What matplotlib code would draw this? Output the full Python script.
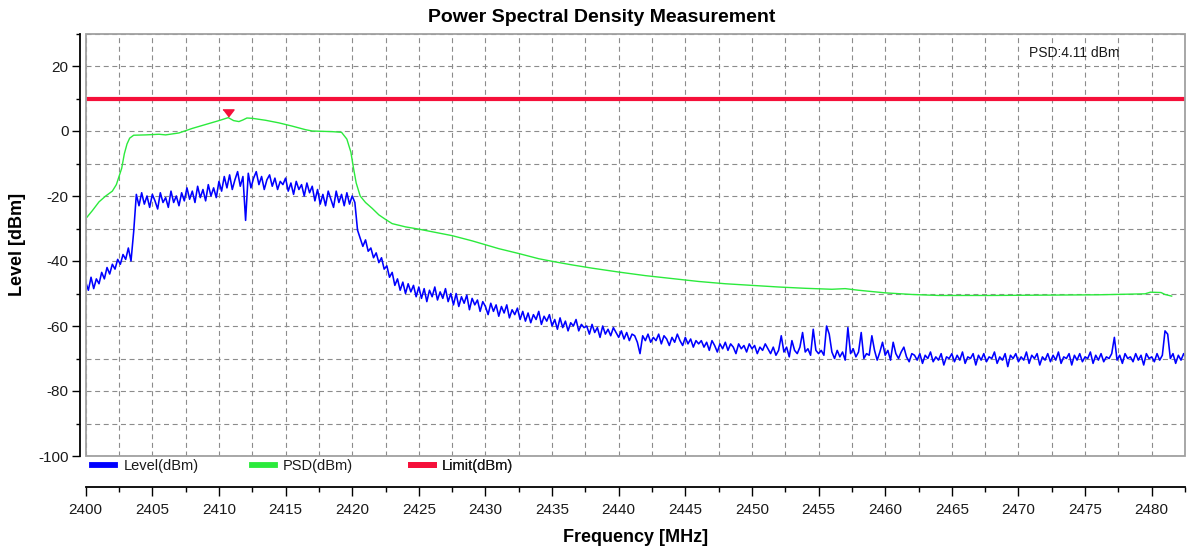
import numpy as np
import matplotlib
matplotlib.use("Agg")
import matplotlib.pyplot as plt
from matplotlib.lines import Line2D
from matplotlib.patches import Rectangle
from matplotlib.ticker import MultipleLocator
import matplotlib.transforms as mtransforms

plt.rcParams['font.family'] = ['Liberation Sans', 'DejaVu Sans']
plt.rcParams['lines.scale_dashes'] = False
plt.rcParams['axes.unicode_minus'] = False

# ---------------- data ----------------
title = "Power Spectral Density Measurement"
x_label = "Frequency [MHz]"
y_label = "Level [dBm]"
series_names = ["Level(dBm)", "PSD(dBm)", "Limit(dBm)"]

level_start_mhz = 2400.0
level_step_mhz = 0.2
level_dbm = [
    # 2400.0 - 2403.6
    -46.5, -49.0, -45.0, -48.5, -45.5, -47.0, -43.5, -45.5, -42.0, -44.0,
    -41.0, -42.5, -39.5, -41.0, -38.0, -39.5, -36.0, -40.0, -31.0,
    # 2403.8 - 2407.4
    -19.5, -23.0, -19.0, -22.5, -20.0, -23.5, -19.5, -21.5, -24.0, -19.0,
    -22.0, -20.5, -23.5, -18.5, -22.0, -20.0, -23.0, -19.0, -21.5,
    # 2407.6 - 2409.8
    -17.5, -21.0, -18.5, -22.0, -17.0, -20.5, -18.0, -21.5, -16.5, -20.0,
    -17.5, -20.5,
    # 2410.0 - 2411.8
    -15.5, -18.5, -14.0, -17.5, -13.5, -18.0, -15.0, -12.5, -17.0, -14.0,
    # 2412.0 notch
    -27.5,
    # 2412.2 - 2414.8
    -13.0, -17.5, -14.5, -12.5, -16.5, -14.0, -18.0, -15.0, -13.5, -17.0,
    -14.5, -18.0, -15.5, -16.5,
    # 2415.0 - 2417.0
    -14.5, -18.5, -16.0, -19.5, -15.5, -18.0, -16.5, -20.0, -16.0, -19.0,
    -17.0,
    # 2417.2 - 2420.2
    -21.5, -18.0, -22.5, -19.5, -23.0, -18.5, -21.0, -23.5, -18.5, -22.0,
    -19.5, -23.0, -19.0, -22.5, -20.0, -22.0,
    # 2420.4 - 2425.0
    -30.5, -33.0, -35.5, -33.5, -37.0, -36.0, -39.0, -37.5, -40.5, -39.0,
    -42.5, -41.5, -45.0, -43.5, -47.5, -45.5, -49.0, -46.5, -50.0, -47.0,
    -49.5, -47.5, -51.0, -48.0,
    # 2425.2 - 2427.4
    -51.5, -48.5, -52.5, -49.0, -51.0, -48.0, -52.0, -49.5, -51.5, -48.5,
    -52.5, -50.0,
    # 2427.6 - 2429.8
    -53.5, -50.0, -54.0, -51.0, -53.0, -50.5, -55.0, -51.5, -53.5, -52.0,
    -55.5, -52.5,
    # 2430.0 - 2432.4
    -54.0, -56.5, -53.0, -55.5, -53.5, -57.0, -54.0, -56.0, -53.5, -57.5,
    -55.0, -56.5, -54.5,
    # 2432.6 - 2434.8
    -58.0, -55.5, -58.5, -56.0, -59.0, -56.5, -58.0, -55.5, -59.5, -57.0,
    -58.5, -56.5,
    # 2435.0 - 2437.4
    -60.0, -58.0, -61.0, -57.5, -60.5, -58.5, -61.5, -59.0, -60.0, -58.0,
    -61.5, -59.5, -60.5,
    # 2437.6 - 2439.8
    -60.0, -62.5, -59.5, -62.0, -60.5, -63.5, -60.0, -62.5, -61.0, -63.0,
    -60.5, -62.0,
    # 2440.0 - 2446.0
    -63.5, -61.5, -64.0, -62.0, -64.5, -62.5, -63.0, -65.0, -68.5, -63.0,
    -64.5, -62.5, -65.0, -63.5, -64.5, -62.5, -65.5, -63.0, -64.0, -66.0,
    -63.5, -65.0, -62.5, -64.5, -66.0, -63.5, -65.5, -64.0, -66.5, -64.5,
    -65.5,
    # 2446.2 - 2451.0
    -64.5, -66.5, -65.0, -67.5, -64.5, -66.0, -68.0, -65.5, -67.0, -65.0,
    -67.5, -65.5, -66.5, -68.5, -65.5, -67.0, -66.0, -68.0, -65.5, -67.0,
    -66.0, -68.5, -66.5, -67.5, -65.5,
    # 2451.2 - 2455.0
    -67.0, -68.5, -66.5, -69.0, -67.5, -63.0, -68.0, -66.5, -69.5, -64.5,
    -67.5, -68.5, -66.5, -62.0, -68.0, -67.0, -69.0, -61.0, -67.5, -68.5,
    # 2455.2 - 2462.0
    -67.5, -69.0, -60.0, -62.5, -68.0, -70.0, -67.5, -69.5, -68.0, -70.5,
    -60.5, -68.5, -67.0, -69.5, -68.0, -62.0, -70.0, -68.5, -69.0, -63.0,
    -67.5, -70.5, -68.0, -65.0, -69.0, -67.5, -70.5, -65.0, -68.5, -70.0,
    -68.0, -66.5, -69.5, -71.0, -68.5,
    # 2462.2 - 2482.6
    -69.0, -70.5, -68.5, -71.5, -69.0, -70.0, -68.0, -71.0, -69.5, -70.5,
    -68.5, -72.0, -69.5, -70.0, -68.5, -71.0, -69.0, -70.5, -68.0, -71.5,
    -69.5, -70.0, -68.5, -72.0, -69.0, -70.5, -68.5, -71.0, -69.5, -70.0,
    -68.0, -71.5, -69.5, -70.5, -68.5, -72.5, -69.0, -70.0, -68.5, -71.0,
    -69.5, -70.5, -68.0, -71.5, -69.0, -70.0, -68.5, -72.0, -69.5, -70.5,
    -68.5, -71.0, -69.0, -70.5, -68.0, -71.5, -69.5, -70.0, -68.5, -72.0,
    -69.0, -70.5, -68.5, -71.0, -69.5, -70.0, -68.0, -71.5, -69.0, -70.5,
    -68.5, -71.0, -69.5, -70.0, -68.5, -63.5, -70.5, -69.0, -71.5, -68.5,
    -70.0, -69.5, -71.0, -68.5, -70.5, -69.0, -72.0, -68.5, -70.0, -69.5,
    -71.0, -68.5, -70.5, -69.0, -61.5, -62.5, -70.0, -68.5, -71.5, -69.0,
    -70.5, -68.5, -70.0,
]

psd_freq = [
    2400.0, 2400.5, 2401.0, 2401.5, 2402.0, 2402.3, 2402.5, 2402.7, 2402.9, 2403.1,
    2403.3, 2403.6, 2404.5, 2405.5, 2406.0, 2407.0, 2408.0, 2409.0, 2410.0, 2410.7,
    2411.1, 2411.5, 2411.8, 2412.1, 2412.5, 2413.5, 2414.5, 2415.5, 2416.5, 2417.0,
    2418.5, 2419.2, 2419.6, 2419.9, 2420.1, 2420.3, 2420.6, 2421.0, 2421.5, 2422.0,
    2422.5, 2423.0, 2424.0, 2425.0, 2426.0, 2427.5, 2429.0, 2430.0, 2431.0, 2432.5,
    2434.0, 2435.0, 2436.5, 2438.0, 2440.0, 2442.0, 2444.0, 2446.0, 2448.0, 2450.0,
    2452.0, 2454.0, 2456.0, 2457.0, 2458.0, 2460.0, 2462.0, 2464.0, 2468.0, 2472.0,
    2476.0, 2479.5, 2479.9, 2480.7, 2481.0, 2481.5,
]
psd_dbm = [
    -27.0, -24.5, -21.8, -20.0, -18.5, -16.5, -14.0, -11.5, -7.0, -4.0,
    -2.2, -1.3, -1.2, -1.0, -1.2, -0.6, 0.8, 2.0, 3.2, 4.11,
    3.2, 2.9, 3.4, 4.0, 3.9, 3.3, 2.5, 1.5, 0.4, 0.0,
    -0.2, -0.4, -2.5, -6.5, -11.5, -16.0, -20.0, -22.0, -23.8, -25.8,
    -27.2, -28.5, -29.5, -30.2, -31.0, -32.2, -33.8, -35.0, -36.2, -37.7,
    -39.3, -40.1, -41.2, -42.2, -43.4, -44.5, -45.4, -46.3, -47.0, -47.5,
    -48.0, -48.4, -48.7, -48.5, -49.0, -49.8, -50.3, -50.6, -50.6, -50.5,
    -50.4, -50.1, -49.6, -49.7, -50.3, -50.8,
]

limit_dbm = 10.0
peak_freq = 2410.7
peak_psd = 4.11
annotation = "PSD:4.11 dBm"

x_range = (2400.0, 2482.5)
y_range = (-100.0, 30.0)

# ---------------- styling ----------------
BLUE = "#0000FF"
GREEN = "#2BEA3C"
RED = "#F5103A"
GRID = "#8C8C8C"
FRAME = "#A0A0A0"

W, H = 1187, 554
fig = plt.figure(figsize=(W / 100, H / 100), dpi=100)
ax_l, ax_r, ax_t, ax_b = 85.7, 1185.0, 33.5, 456.0
ax = fig.add_axes([ax_l / W, 1 - ax_b / H, (ax_r - ax_l) / W, (ax_b - ax_t) / H])

level_freq = level_start_mhz + level_step_mhz * np.arange(len(level_dbm))

ax.plot(psd_freq, psd_dbm, color=GREEN, lw=1.0, zorder=3)
ax.plot(level_freq, level_dbm, color=BLUE, lw=1.15, zorder=4)
ax.axhline(limit_dbm, color=RED, lw=3.0, zorder=5)

# peak marker (slightly above the peak)
tri = [(-1.0, 0.65), (1.0, 0.65), (0.0, -0.65)]
off = mtransforms.offset_copy(ax.transData, fig=fig, x=0, y=3.5, units='points')
ax.plot([peak_freq], [peak_psd], marker=tri, markersize=8, color=RED,
        linestyle='none', transform=off, zorder=6, clip_on=False)

ax.set_xlim(*x_range)
ax.set_ylim(*y_range)

ax.xaxis.set_major_locator(MultipleLocator(5))
ax.xaxis.set_minor_locator(MultipleLocator(2.5))
ax.yaxis.set_major_locator(MultipleLocator(20))
ax.yaxis.set_minor_locator(MultipleLocator(10))

ax.grid(which='both', axis='both', color=GRID, lw=0.8, linestyle=(0, (3.6, 2.6)), zorder=1)
ax.set_axisbelow(True)

for s in ['top', 'right']:
    ax.spines[s].set_visible(False)
ax.spines['left'].set_position(('outward', 3.8))
ax.spines['left'].set_color('black')
ax.spines['left'].set_linewidth(1.3)
ax.spines['bottom'].set_position(('outward', 22.3))
ax.spines['bottom'].set_color('black')
ax.spines['bottom'].set_linewidth(1.3)

ax.add_patch(Rectangle((0, 0), 1, 1, transform=ax.transAxes, fill=False,
                       edgecolor=FRAME, lw=1.3, zorder=7, clip_on=False))

ax.tick_params(axis='x', which='major', length=6.5, width=1.0, direction='out',
               labelsize=11, pad=5, colors='black', labelcolor='#1a1a1a')
ax.tick_params(axis='x', which='minor', length=3.6, width=1.0, direction='out')
ax.tick_params(axis='y', which='major', length=6, width=1.0, direction='out',
               labelsize=11, pad=2.5, colors='black', labelcolor='#1a1a1a')
ax.tick_params(axis='y', which='minor', length=3, width=1.0, direction='out')

ax.set_xlabel(x_label, fontsize=13, fontweight='bold')
ax.xaxis.set_label_coords(0.5, (ax_b - 538) / (ax_b - ax_t))
ax.xaxis.label.set_va('center')
ax.set_ylabel(y_label, fontsize=13, fontweight='bold')
ax.yaxis.set_label_coords((18 - ax_l) / (ax_r - ax_l), 0.5)
ax.yaxis.label.set_va('center')

fig.text(602 / W, 1 - 17 / H, title, ha='center', va='center',
         fontsize=14, fontweight='bold')

ax.text((1074 - ax_l) / (ax_r - ax_l), (ax_b - 53) / (ax_b - ax_t), annotation,
        transform=ax.transAxes, ha='center', va='center', fontsize=10, color='#1a1a1a')

# legends, one per series, placed in the band between plot and axis
leg_colors = [BLUE, GREEN, RED]
leg_x_px = [92.0, 251.7, 410.7]
for name, col, lx in zip(series_names, leg_colors, leg_x_px):
    h = Line2D([0], [0], color=col, lw=4.2)
    lg = ax.legend([h], [name], loc='center left',
                   bbox_to_anchor=((lx - ax_l) / (ax_r - ax_l), (ax_b - 466) / (ax_b - ax_t)),
                   frameon=False, fontsize=10.5, handlelength=1.6, handletextpad=0.55,
                   borderpad=0, borderaxespad=0)
    for t in lg.get_texts():
        t.set_color('#1a1a1a')
    ax.add_artist(lg)

fig.savefig("out.png", dpi=100)
